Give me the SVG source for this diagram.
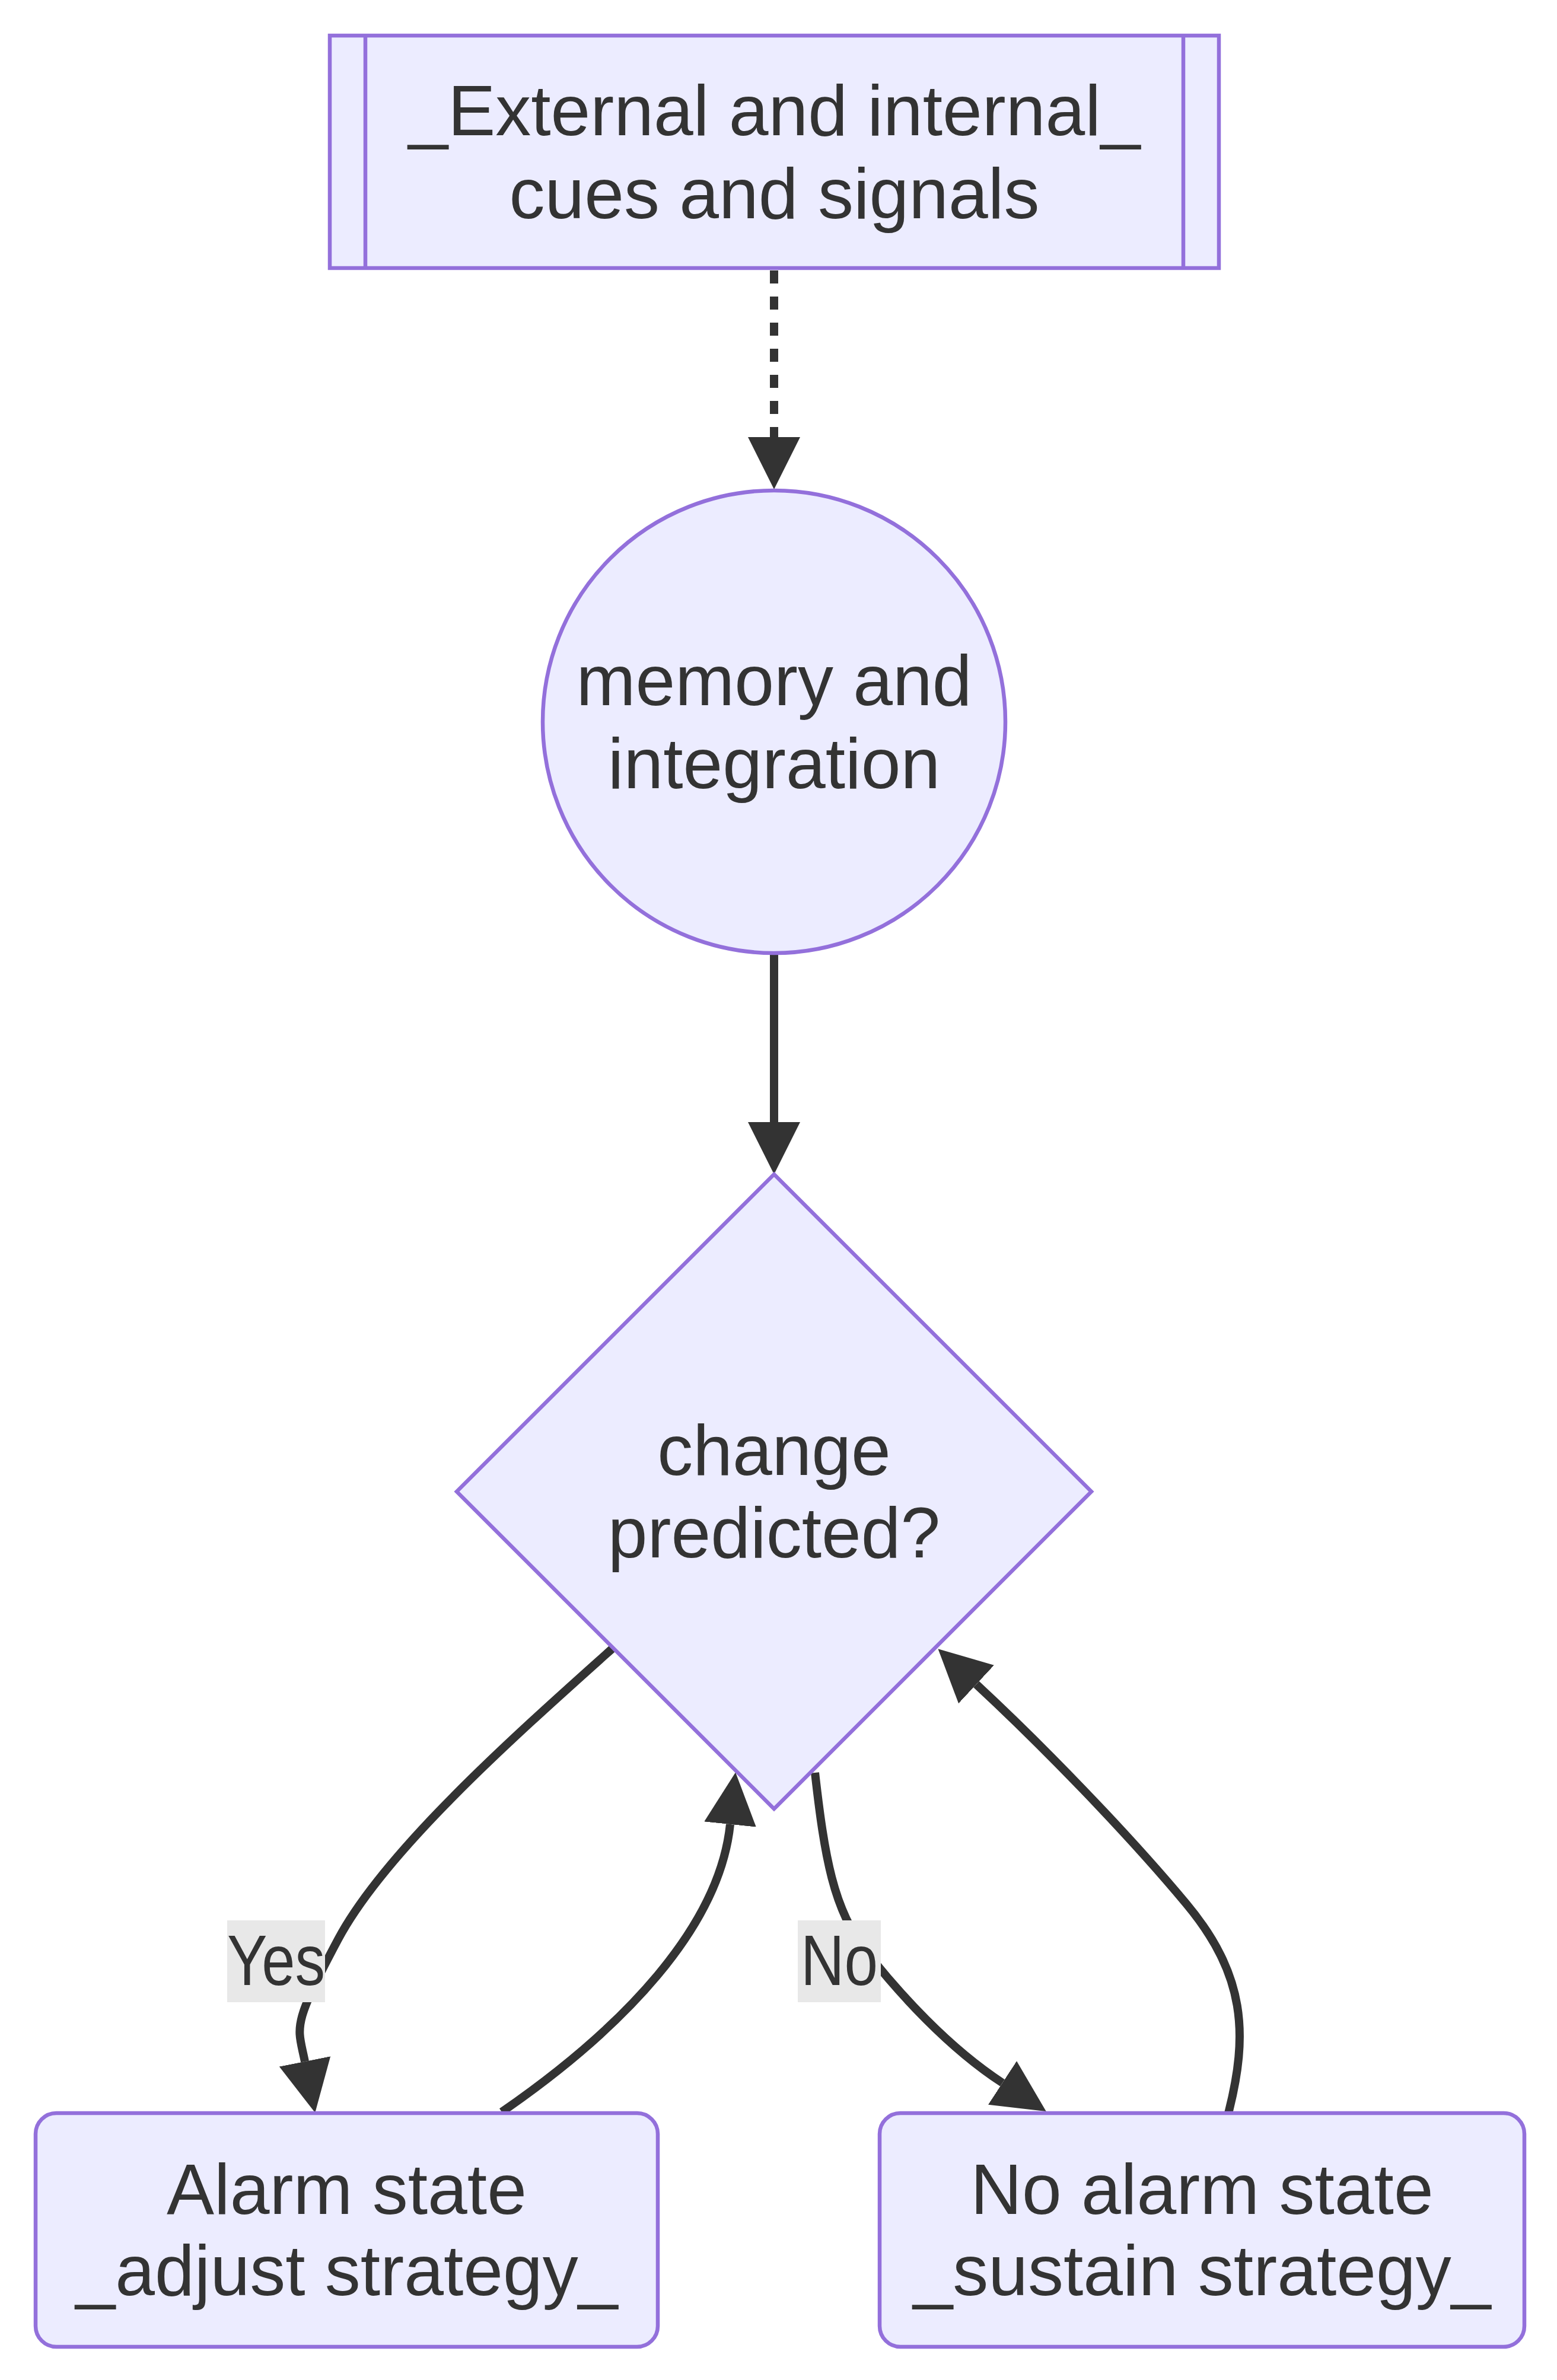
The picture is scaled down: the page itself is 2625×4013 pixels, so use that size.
<svg xmlns="http://www.w3.org/2000/svg" width="2625" height="4013" viewBox="0 0 2625 4013">
<style>
  .node { fill: #ECECFF; stroke: #9370DB; stroke-width: 6.5; }
  .edge { fill: none; stroke: #333333; stroke-width: 14; }
  .dotted { stroke-dasharray: 22 22; }
  .label { font-family: "Liberation Sans", Arial, sans-serif; font-size: 120px; fill: #333333; text-anchor: middle; }
  .elbg { fill: #e8e8e8; }
</style>
<defs>
  <marker id="arrow" viewBox="0 0 10 10" refX="0" refY="5" markerUnits="userSpaceOnUse" markerWidth="88" markerHeight="88" orient="auto">
    <path d="M0,0 L10,5 L0,10 z" fill="#333333"/>
  </marker>
</defs>
<rect width="2625" height="4013" fill="#ffffff"/>
<g id="connectors">
  <path class="edge dotted" d="M1305,456 L1305,737" marker-end="url(#arrow)"/>
  <path class="edge" d="M1305,1607 L1305,1892" marker-end="url(#arrow)"/>
  <path class="edge" d="M1032,2780 C870,2925 650,3120 570,3270 S502,3416 514,3476" marker-end="url(#arrow)"/>
  <path class="edge" d="M846,3561 C1050,3420 1213,3250 1231,3076" marker-end="url(#arrow)"/>
  <path class="edge" d="M1374,2989 C1390,3130 1405,3220 1460,3290 S1598,3452 1690,3512" marker-end="url(#arrow)"/>
  <path class="edge" d="M2071,3563 C2105,3430 2100,3330 2000,3210 S1756,2942 1646,2840" marker-end="url(#arrow)"/>
</g>
<g id="edge-labels">
  <g id="label-yes">
    <rect class="elbg" x="383" y="3238" width="165" height="138"/>
    <text class="label" x="465.5" y="3347" textLength="165" lengthAdjust="spacingAndGlyphs">Yes</text>
  </g>
  <g id="label-no">
    <rect class="elbg" x="1345" y="3238" width="140" height="138"/>
    <text class="label" x="1415" y="3347" textLength="130" lengthAdjust="spacingAndGlyphs">No</text>
  </g>
</g>
<g id="node-cues">
  <rect class="node" x="556" y="60" width="1499" height="392"/>
  <line class="node" x1="616" y1="60" x2="616" y2="452"/>
  <line class="node" x1="1995" y1="60" x2="1995" y2="452"/>
  <text class="label" x="1305.5" y="228">_External and internal_</text>
  <text class="label" x="1305.5" y="368">cues and signals</text>
</g>
<g id="node-memory">
  <circle class="node" cx="1305" cy="1217" r="390"/>
  <text class="label" x="1305" y="1189">memory and</text>
  <text class="label" x="1305" y="1329">integration</text>
</g>
<g id="node-decision">
  <polygon class="node" points="1305,1980 1840,2515 1305,3050 770,2515"/>
  <text class="label" x="1305" y="2487">change</text>
  <text class="label" x="1305" y="2626">predicted?</text>
</g>
<g id="node-alarm">
  <rect class="node" x="60" y="3563" width="1049" height="394" rx="35" ry="35"/>
  <text class="label" x="584.5" y="3733">Alarm state</text>
  <text class="label" x="584.5" y="3870">_adjust strategy_</text>
</g>
<g id="node-noalarm">
  <rect class="node" x="1483" y="3563" width="1087" height="394" rx="35" ry="35"/>
  <text class="label" x="2026.5" y="3733">No alarm state</text>
  <text class="label" x="2026.5" y="3870">_sustain strategy_</text>
</g>
</svg>
